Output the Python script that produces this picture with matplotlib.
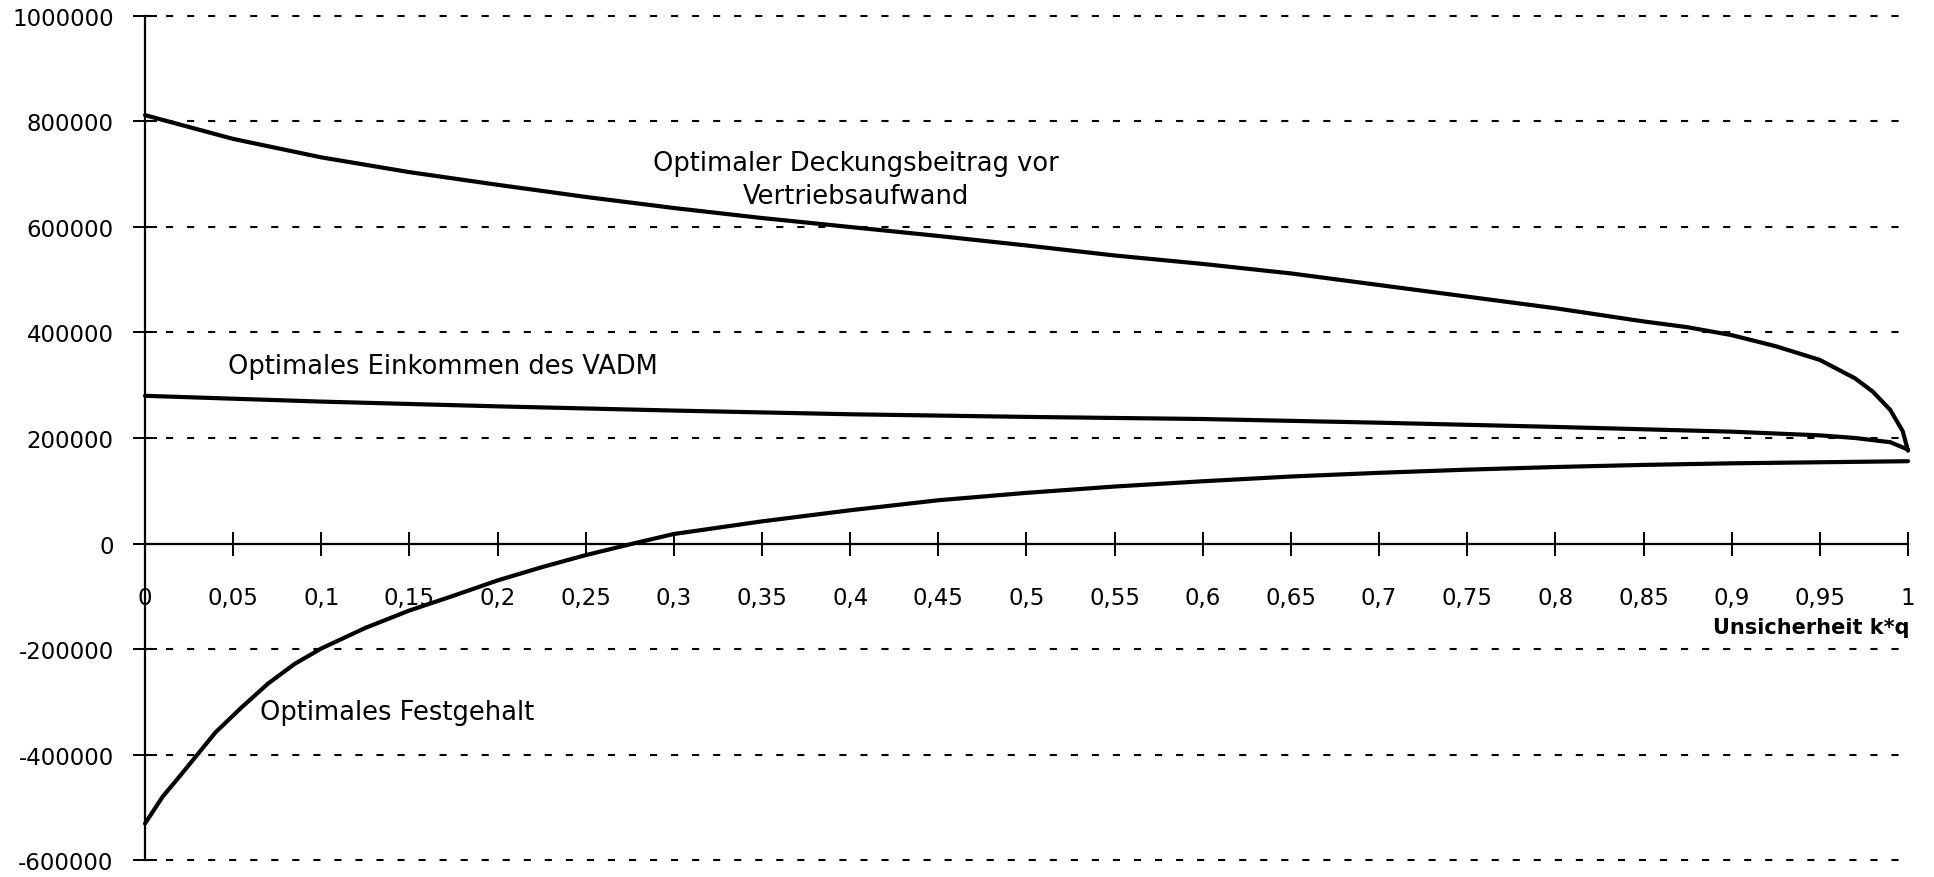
import matplotlib
matplotlib.use("Agg")
import matplotlib.pyplot as plt
from matplotlib.ticker import FixedLocator

# ---- data ----
x_db = [0, 0.05, 0.1, 0.15, 0.2, 0.25, 0.3, 0.35, 0.4, 0.45, 0.5, 0.55, 0.6,
        0.65, 0.7, 0.75, 0.8, 0.85, 0.875, 0.9, 0.925, 0.95, 0.97, 0.98, 0.99,
        0.997, 1.0]
y_db = [812000, 767000, 732000, 704000, 680000, 657000, 636000, 617000, 600000,
        583000, 565000, 546000, 530000, 512000, 490000, 468000, 446000, 421000,
        410000, 395000, 374000, 348000, 313000, 288000, 253000, 213000, 176000]

x_ek = [0, 0.1, 0.2, 0.3, 0.4, 0.5, 0.6, 0.7, 0.8, 0.9, 0.95, 0.97, 0.99, 1.0]
y_ek = [280000, 269000, 260000, 252000, 245000, 240000, 236000, 229000, 221000,
        212000, 205000, 200000, 192000, 178000]

x_fg = [0, 0.01, 0.02, 0.03, 0.04, 0.055, 0.07, 0.085, 0.1, 0.125, 0.15, 0.175,
        0.2, 0.225, 0.25, 0.277, 0.3, 0.35, 0.4, 0.45, 0.5, 0.55, 0.6, 0.65,
        0.7, 0.75, 0.8, 0.85, 0.9, 0.95, 1.0]
y_fg = [-531000, -480000, -440000, -399000, -358000, -310000, -265000, -228000,
        -199000, -160000, -127000, -99000, -70000, -45000, -22000, 0, 18000,
        42000, 63000, 82000, 96000, 108000, 118000, 127000, 134000, 140000,
        145000, 149000, 152000, 154000, 156000]

x_ticks = [0, 0.05, 0.1, 0.15, 0.2, 0.25, 0.3, 0.35, 0.4, 0.45, 0.5, 0.55, 0.6,
           0.65, 0.7, 0.75, 0.8, 0.85, 0.9, 0.95, 1]
x_ticklabels = ["0", "0,05", "0,1", "0,15", "0,2", "0,25", "0,3", "0,35", "0,4",
                "0,45", "0,5", "0,55", "0,6", "0,65", "0,7", "0,75", "0,8",
                "0,85", "0,9", "0,95", "1"]
y_ticks = [-600000, -400000, -200000, 0, 200000, 400000, 600000, 800000, 1000000]
y_ticklabels = ["-600000", "-400000", "-200000", "0", "200000", "400000",
                "600000", "800000", "1000000"]

label_db_1 = "Optimaler Deckungsbeitrag vor"
label_db_2 = "Vertriebsaufwand"
label_ek = "Optimales Einkommen des VADM"
label_fg = "Optimales Festgehalt"
x_title = "Unsicherheit k*q"

# ---- figure ----
plt.rcParams['font.family'] = ['DejaVu Sans']
fig = plt.figure(figsize=(19.34, 8.78), dpi=100)
ax = fig.add_axes([0.07497, 0.01936, 0.91158, 0.96128])

ax.set_xlim(0, 1)
ax.set_ylim(-600000, 1000000)

for xs, ys in ((x_db, y_db), (x_ek, y_ek), (x_fg, y_fg)):
    ax.plot(xs, ys, color='black', lw=3.0, solid_capstyle='round',
            solid_joinstyle='round', clip_on=False, zorder=3)

# dashed horizontal grid
for yv in y_ticks:
    if yv != 0:
        ax.axhline(yv, color='black', lw=1.5, linestyle=(0, (3.4, 6.7)),
                   zorder=1, clip_on=False)

ax.spines['top'].set_visible(False)
ax.spines['right'].set_visible(False)
ax.spines['bottom'].set_position(('data', 0))
ax.spines['left'].set_linewidth(1.6)
ax.spines['bottom'].set_linewidth(1.6)

ax.xaxis.set_major_locator(FixedLocator(x_ticks))
ax.set_xticklabels(x_ticklabels)
ax.yaxis.set_major_locator(FixedLocator(y_ticks))
ax.set_yticklabels(y_ticklabels)

ax.tick_params(axis='x', direction='inout', length=17, width=1.4, pad=22,
               labelsize=16.5, colors='black')
ax.tick_params(axis='y', direction='inout', length=17, width=1.4, pad=14,
               labelsize=16.5, colors='black')

ax.text(0.4035, 722000, label_db_1, ha='center', va='center', fontsize=18.5)
ax.text(0.4035, 658000, label_db_2, ha='center', va='center', fontsize=18.5)
ax.text(0.047, 336000, label_ek, ha='left', va='center', fontsize=18.5)
ax.text(0.065, -320000, label_fg, ha='left', va='center', fontsize=18.5)
ax.text(1.001, -159000, x_title, ha='right', va='center', fontsize=15,
        fontweight='bold')

fig.savefig("out.png", dpi=100)
